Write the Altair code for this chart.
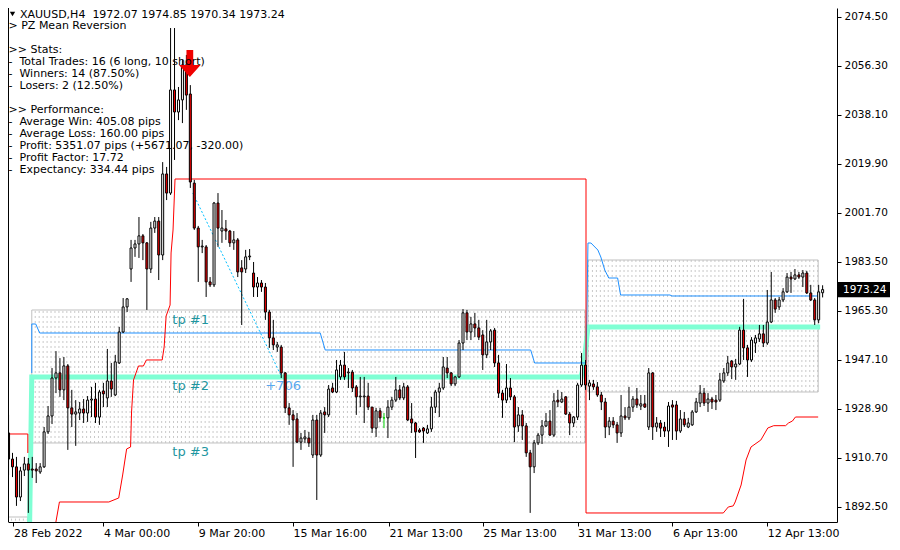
import math
import altair as alt
import pandas as pd

# ---------------- data (XAUUSD H4) ----------------
opens = [
1920.0,1910.3,1907.4,1896.2,1906.2,1908.5,1906.6,1906.6,1905.5,1907.4,
1920.4,1926.3,1940.4,1942.3,1936.0,1944.9,1929.3,1927.0,1927.4,1928.9,
1927.4,1932.2,1932.6,1925.9,1935.6,1933.0,1939.3,1934.1,1946.0,1957.5,
1966.8,1980.9,1988.7,1990.2,1993.2,1990.6,1980.9,1996.1,1998.7,1986.1,
2016.2,2009.1,2047.4,2039.2,2043.7,2056.7,2045.9,2012.8,1996.1,1989.1,
1989.1,1976.1,1975.0,2005.4,1995.0,1995.8,1995.0,1990.6,1991.7,1981.3,
1980.9,1985.4,1979.4,1974.2,1975.7,1974.2,1964.9,1955.3,1951.9,1951.9,
1942.3,1929.3,1926.7,1925.2,1916.6,1917.8,1918.1,1911.8,1924.8,1911.8,
1927.8,1926.7,1936.7,1935.2,1940.8,1945.2,1942.3,1942.6,1937.1,1933.4,
1933.4,1933.7,1929.6,1921.8,1928.2,1925.6,1925.6,1929.6,1932.2,1936.0,
1933.0,1937.1,1925.2,1923.7,1921.1,1921.8,1920.0,1921.5,1929.6,1935.2,
1936.7,1944.1,1942.3,1938.2,1940.8,1953.4,1964.6,1957.5,1960.5,1959.0,
1956.4,1949.0,1953.8,1958.2,1946.0,1934.8,1932.2,1936.7,1933.4,1922.6,
1926.7,1922.6,1912.6,1907.4,1916.3,1919.2,1922.6,1924.4,1919.2,1932.2,
1931.5,1933.4,1927.0,1923.7,1925.9,1937.8,1945.2,1937.4,1938.2,1937.1,
1934.1,1931.5,1922.2,1924.4,1923.0,1920.0,1926.3,1925.6,1929.6,1932.6,
1930.0,1930.8,1922.2,1942.3,1922.2,1923.7,1922.2,1920.7,1930.4,1930.4,
1920.7,1925.2,1922.2,1923.0,1927.8,1931.1,1934.8,1931.1,1932.6,1932.2,
1932.2,1939.3,1942.3,1946.7,1944.5,1945.6,1958.2,1951.6,1947.1,1953.4,
1954.9,1956.8,1953.4,1961.2,1969.4,1966.8,1969.4,1972.4,1977.9,1977.2,
1978.7,1977.9,1979.4,1972.0,1969.4,1962.0,1972.07]
highs = [
1926.7,1912.6,1911.1,1907.4,1911.1,1910.7,1911.1,1908.8,1908.8,1922.2,
1930.0,1944.1,1950.4,1947.8,1948.2,1945.6,1936.0,1932.2,1931.5,1932.6,
1933.7,1937.1,1938.6,1936.0,1938.6,1951.2,1946.0,1949.0,1959.4,1970.1,
1970.1,1991.7,1991.7,2000.2,1993.9,1990.9,1998.4,2000.2,2000.2,2020.6,
2018.8,2070.4,2070.4,2048.5,2058.5,2060.4,2049.2,2014.0,1996.9,1991.7,
1989.8,1977.9,2005.8,2009.1,2002.8,1999.1,1995.4,1995.0,1992.4,1984.2,
1988.0,1988.3,1983.5,1977.9,1976.8,1975.7,1965.7,1962.0,1953.8,1952.7,
1942.6,1931.1,1928.5,1927.4,1920.0,1921.1,1920.4,1926.7,1926.7,1928.5,
1929.6,1937.8,1938.6,1947.1,1947.1,1950.1,1944.1,1943.4,1937.8,1940.8,
1940.8,1938.6,1929.6,1929.3,1929.3,1927.4,1932.2,1933.4,1940.8,1937.8,
1938.6,1937.8,1931.1,1924.1,1921.8,1922.2,1923.0,1933.4,1936.0,1938.6,
1948.2,1948.2,1942.6,1941.2,1954.5,1966.0,1965.7,1963.1,1964.6,1962.0,
1958.2,1962.0,1958.6,1959.0,1949.0,1936.0,1945.6,1940.4,1934.1,1929.6,
1928.5,1923.7,1913.7,1917.4,1920.0,1924.8,1927.4,1928.5,1934.8,1936.0,
1935.2,1933.7,1927.8,1926.3,1938.6,1949.7,1947.1,1939.7,1939.7,1938.9,
1935.2,1933.0,1925.9,1925.9,1924.1,1934.1,1929.6,1937.1,1933.7,1936.7,
1934.1,1934.1,1944.1,1942.6,1925.9,1924.8,1924.1,1931.5,1932.2,1931.9,
1928.5,1927.8,1925.6,1928.5,1933.0,1937.8,1936.7,1934.8,1933.4,1934.1,
1942.3,1944.1,1948.6,1947.1,1947.5,1959.4,1969.8,1952.7,1955.6,1956.4,
1960.1,1960.1,1973.1,1979.8,1970.1,1970.5,1973.8,1979.4,1979.8,1980.9,
1979.8,1980.5,1980.2,1975.0,1970.1,1975.0,1974.85]
lows = [
1904.4,1903.6,1892.9,1894.7,1904.0,1890.3,1903.3,1901.4,1904.8,1907.0,
1919.6,1923.3,1934.8,1933.4,1932.2,1913.7,1922.2,1915.2,1924.8,1923.7,
1924.1,1925.9,1923.7,1923.0,1929.6,1929.6,1933.4,1933.7,1945.6,1957.1,
1964.9,1976.1,1985.4,1985.0,1984.2,1965.7,1979.4,1994.3,1976.8,1984.2,
2006.5,2008.4,2021.4,2036.2,2035.1,2040.0,2011.0,1995.4,1976.1,1986.8,
1970.5,1974.2,1974.2,1989.1,1990.6,1991.7,1989.1,1988.0,1977.9,1960.1,
1979.4,1984.2,1970.5,1970.5,1972.4,1962.0,1951.6,1950.8,1950.1,1940.4,
1927.4,1923.0,1907.4,1916.3,1913.7,1916.3,1914.8,1910.7,1895.1,1911.1,
1920.0,1925.9,1934.8,1934.8,1939.7,1939.7,1936.7,1935.2,1926.7,1929.6,
1923.7,1928.5,1920.0,1918.5,1924.1,1921.8,1918.1,1928.5,1931.5,1932.2,
1932.2,1924.4,1920.0,1910.7,1920.0,1916.3,1919.6,1920.4,1927.4,1925.9,
1936.0,1940.4,1937.4,1937.4,1940.4,1950.8,1954.5,1954.5,1955.6,1954.5,
1943.4,1947.8,1950.8,1944.5,1933.0,1925.6,1931.1,1932.2,1916.6,1920.4,
1917.4,1911.1,1890.3,1905.1,1915.5,1915.9,1922.2,1918.9,1918.5,1929.6,
1931.1,1926.7,1919.2,1922.2,1924.8,1937.1,1936.0,1932.2,1936.0,1933.4,
1928.5,1918.1,1919.2,1921.8,1916.3,1918.5,1924.8,1924.8,1927.8,1929.3,
1928.5,1929.3,1921.1,1917.4,1920.4,1918.5,1918.5,1914.8,1917.4,1917.4,
1920.0,1922.2,1921.8,1922.6,1927.4,1929.6,1930.0,1927.8,1928.9,1928.5,
1931.5,1938.6,1941.2,1940.0,1939.7,1945.2,1947.1,1940.8,1946.4,1949.7,
1953.8,1951.9,1952.7,1960.8,1964.6,1965.7,1968.6,1972.0,1972.0,1976.8,
1977.2,1974.2,1971.6,1969.0,1960.1,1960.8,1970.34]
closes = [
1910.3,1907.4,1896.2,1905.9,1908.5,1906.2,1906.2,1905.9,1907.4,1920.4,
1926.3,1940.4,1942.3,1936.0,1944.9,1929.3,1927.0,1927.8,1928.9,1927.4,
1932.2,1932.6,1925.9,1935.2,1934.5,1939.3,1936.3,1946.4,1957.5,1966.8,
1969.8,1988.7,1990.2,1993.2,1990.6,1980.9,1996.1,1998.7,1986.1,2016.2,
2009.1,2047.4,2039.2,2043.7,2056.7,2045.5,2013.2,1996.1,1989.1,1989.4,
1976.1,1975.0,2005.4,1996.1,1996.1,1995.0,1990.6,1991.7,1979.8,1979.8,
1985.4,1985.7,1974.2,1975.7,1974.2,1964.9,1955.3,1952.7,1952.7,1942.3,
1929.3,1926.7,1924.8,1916.6,1918.1,1918.5,1916.3,1924.8,1911.8,1927.4,
1926.7,1936.3,1935.2,1943.4,1945.2,1940.8,1942.6,1936.7,1933.4,1933.7,
1933.7,1929.6,1921.8,1928.2,1925.6,1925.6,1929.6,1932.2,1936.0,1933.0,
1937.1,1924.8,1923.7,1920.4,1920.4,1920.7,1921.5,1929.6,1935.2,1936.7,
1944.5,1942.3,1938.2,1940.8,1953.4,1964.6,1957.5,1960.5,1959.0,1955.6,
1949.0,1953.8,1957.9,1946.0,1934.8,1932.2,1936.7,1933.4,1922.2,1926.7,
1922.6,1912.6,1907.4,1916.3,1919.2,1922.6,1924.4,1919.2,1931.9,1931.5,
1932.6,1927.0,1923.7,1925.9,1937.8,1945.2,1937.8,1938.6,1937.1,1934.1,
1931.5,1922.2,1924.4,1923.0,1920.0,1926.3,1925.6,1929.6,1932.6,1930.4,
1930.8,1929.6,1942.3,1922.2,1923.7,1921.8,1920.7,1930.0,1929.6,1920.7,
1925.2,1923.0,1923.7,1927.8,1931.5,1934.8,1931.1,1932.6,1931.5,1931.5,
1939.7,1942.3,1946.0,1944.5,1945.6,1958.2,1951.6,1947.1,1954.5,1955.3,
1956.8,1953.4,1961.2,1969.4,1966.0,1969.4,1972.4,1977.9,1977.2,1978.7,
1977.9,1979.4,1972.0,1969.4,1962.0,1972.4,1973.24]

date_labels = ["28 Feb 2022", "4 Mar 00:00", "9 Mar 20:00", "15 Mar 16:00", "21 Mar 13:00",
               "25 Mar 13:00", "31 Mar 13:00", "6 Apr 13:00", "12 Apr 13:00"]
date_ticks = [1.25, 24, 48, 72, 96.25, 120, 144, 168, 192]
price_ticks = [2074.50, 2056.30, 2038.10, 2019.90, 2001.70, 1983.50, 1965.30, 1947.10, 1928.90, 1910.70, 1892.50]

# trade zones (bar span, price span)
zone_start = [-0.125, 5.875, 146.625]
zone_end = [4.875, 145.875, 204.875]
zone_low = [1880.0, 1916.27, 1935.21]
zone_high = [1888.78, 1965.67, 1984.24]

# entry level line (aquamarine)
green_bar = [5.25, 5.875, 144.875, 145.625, 146.625, 205.375]
green_price = [1878.0, 1940.78, 1940.78, 1946.0, 1959.35, 1959.35]

# mean line (blue)
blue_bar = [5.875, 5.875, 6.875, 7.875, 78.875, 80.125, 132.125, 133.125, 146.125, 146.625,
            147.375, 149.125, 149.875, 150.875, 151.875, 154.125, 154.875, 167.375, 167.875, 204.875]
blue_price = [1942.27, 1960.47, 1960.47, 1957.12, 1957.12, 1950.81, 1950.81, 1945.98, 1945.98, 1990.55,
              1990.55, 1987.95, 1985.35, 1980.52, 1977.55, 1977.55, 1971.24, 1971.24, 1970.87, 1970.87]

# stop line (red), two segments
red_a_bar = [-0.125, 4.875, 4.875]
red_a_price = [1919.61, 1919.61, 1912.55]
red_b_bar = [11.8, 12.875, 25.375, 27.875, 28.875, 29.875, 30.875, 31.125, 31.625, 32.875,
             34.125, 34.875, 38.875, 39.375, 39.875, 40.875, 41.125, 41.625, 42.125, 146.125,
             146.125, 180.875, 182.125, 183.375, 183.875, 185.375, 186.625, 187.875, 190.375, 192.125,
             193.625, 196.625, 197.375, 198.375, 199.125, 204.875]
red_b_price = [1885.4, 1894.35, 1894.35, 1895.84, 1904.38, 1914.04, 1914.78, 1927.78, 1939.67, 1944.87,
               1944.87, 1947.10, 1947.10, 1951.93, 1963.44, 1967.5, 1986.84, 1995.38, 2014.32, 2014.32,
               1890.27, 1890.27, 1892.5, 1892.9, 1894.35, 1900.67, 1909.95, 1914.78, 1917.38, 1921.84,
               1922.7, 1922.7, 1923.7, 1924.44, 1925.92, 1925.92]

# trade path (dotted)
trade_bar = [46.625, 69.125]
trade_price = [2009.12, 1940.78]

tp_labels = ["tp #1", "tp #2", "tp #3"]
tp_bar = [41.45, 41.45, 41.45]
tp_price = [1961.95, 1937.44, 1912.92]
profit_label = "+706"
profit_bar = 64.95
profit_price = 1937.44

signal_bar = 45.875
signal_price = 2057.2

title_line = "XAUUSD,H4\u00a0\u00a01972.07 1974.85 1970.34 1973.24"
info_lines = ["> PZ Mean Reversion", "", ">> Stats:",
              "-\u00a0\u00a0Total Trades: 16 (6 long, 10 short)",
              "-\u00a0\u00a0Winners: 14 (87.50%)",
              "-\u00a0\u00a0Losers: 2 (12.50%)", "", ">> Performance:",
              "-\u00a0\u00a0Average Win: 405.08 pips",
              "-\u00a0\u00a0Average Loss: 160.00 pips",
              "-\u00a0\u00a0Profit: 5351.07 pips (+5671.07, -320.00)",
              "-\u00a0\u00a0Profit Factor: 17.72",
              "-\u00a0\u00a0Expectancy: 334.44 pips"]

# ---------------- chart ----------------
FONT = "DejaVu Sans"
W, H = 829, 514
xs = alt.Scale(domain=[1.125, 208.375], nice=False, zero=False)
ys = alt.Scale(domain=[1886.92, 2077.84], nice=False, zero=False)

label_expr = "[" + ",".join("'%s'" % s for s in date_labels) + "][round(datum.value / 24)]"
x_axis = alt.Axis(values=date_ticks, labelExpr=label_expr, orient="bottom", title=None, grid=False,
                  domainColor="black", domainWidth=1, tickColor="black", tickSize=4, tickWidth=1,
                  labelAlign="left", labelBaseline="top", labelPadding=1, labelFont=FONT,
                  labelFontSize=11, labelColor="black", labelFlush=False, labelOverlap=False,
                  labelBound=False)
y_axis = alt.Axis(values=price_ticks, format=".2f", orient="right", title=None, grid=False,
                  domainColor="black", domainWidth=1, tickColor="black", tickSize=4, tickWidth=1,
                  labelPadding=3, labelFont=FONT, labelFontSize=10.5, labelColor="black",
                  labelBaseline="middle", labelAlign="left", labelOverlap=False, labelFlush=False,
                  labelBound=False)


def X(f):
    return alt.X(f, type="quantitative", scale=xs, axis=x_axis)


def Y(f):
    return alt.Y(f, type="quantitative", scale=ys, axis=y_axis)


cdf = pd.DataFrame({"bar": list(range(len(opens))), "o": opens, "h": highs, "l": lows, "c": closes})
cdf["kind"] = ["up" if c > o else ("down" if c < o else "flat") for o, c in zip(opens, closes)]
kinds = ["up", "down", "flat"]

# zone dotted fill columns
dot_rows = []
for s, e, lo, hi in zip(zone_start, zone_end, zone_low, zone_high):
    for j in range(math.ceil(s + 0.25), math.floor(e + 0.25) + 1):
        dot_rows.append({"bar": j - 0.25, "lo": lo, "hi": hi})
dots = pd.DataFrame(dot_rows)
zones = pd.DataFrame({"x1": zone_start, "x2": zone_end, "lo": zone_low, "hi": zone_high})

layers = []
layers.append(alt.Chart(dots).mark_rule(color="#C8C8C8", strokeWidth=1, strokeDash=[2, 3], clip=True)
              .encode(x=X("bar"), y=Y("lo"), y2="hi"))
layers.append(alt.Chart(zones).mark_rect(fill="white", fillOpacity=0, stroke="#C0C0C0", strokeWidth=1, clip=True)
              .encode(x=X("x1"), x2="x2", y=Y("lo"), y2="hi"))

tpdf = pd.DataFrame({"bar": tp_bar, "price": tp_price, "t": tp_labels})
layers.append(alt.Chart(tpdf).mark_text(align="left", baseline="middle", font=FONT, fontSize=13, color="#1E96A0")
              .encode(x=X("bar"), y=Y("price"), text="t:N"))
pdf = pd.DataFrame({"bar": [profit_bar], "price": [profit_price], "t": [profit_label]})
layers.append(alt.Chart(pdf).mark_text(align="left", baseline="middle", font=FONT, fontSize=13, color="#5AA8F0")
              .encode(x=X("bar"), y=Y("price"), text="t:N"))


def path(xv, yv, **mk):
    df = pd.DataFrame({"bar": xv, "price": yv, "i": list(range(len(xv)))})
    return alt.Chart(df).mark_line(clip=True, **mk).encode(x=X("bar"), y=Y("price"), order="i:Q")


layers.append(path(green_bar, green_price, color="#7FFFD4", strokeWidth=5))
layers.append(path(blue_bar, blue_price, color="#1E90FF", strokeWidth=1))
layers.append(path(red_a_bar, red_a_price, color="#FF0000", strokeWidth=1))
layers.append(path(red_b_bar, red_b_price, color="#FF0000", strokeWidth=1))
layers.append(path(trade_bar, trade_price, color="#00BFFF", strokeWidth=1, strokeDash=[2, 2]))

# candles: wicks then bodies
layers.append(alt.Chart(cdf).mark_rule(strokeWidth=1, clip=True).encode(
    x=X("bar"), y=Y("l"), y2="h",
    color=alt.Color("kind:N", scale=alt.Scale(domain=kinds, range=["black", "black", "#00D000"]), legend=None)))
layers.append(alt.Chart(cdf).mark_bar(size=2, strokeWidth=1, clip=True).encode(
    x=X("bar"), y=Y("o"), y2="c",
    fill=alt.Fill("kind:N", scale=alt.Scale(domain=kinds, range=["white", "#F00000", "#00D000"]), legend=None),
    stroke=alt.Stroke("kind:N", scale=alt.Scale(domain=kinds, range=["black", "black", "#00D000"]), legend=None)))

ARROW = "M-0.25,-1L0.25,-1L0.25,0.1L0.8,0.1L0,1L-0.8,0.1L-0.25,0.1Z"
sdf = pd.DataFrame({"bar": [signal_bar], "price": [signal_price]})
layers.append(alt.Chart(sdf).mark_point(shape=ARROW, filled=True, color="#F00000", size=729, opacity=1)
              .encode(x=X("bar"), y=Y("price")))

# header texts
layers.append(alt.Chart(pd.DataFrame({"t": ["v"]})).mark_point(shape="triangle-down", filled=True, color="black",
                                                               size=28, opacity=1)
              .encode(x=alt.value(4.5), y=alt.value(6)))
layers.append(alt.Chart(pd.DataFrame({"t": [title_line]})).mark_text(align="left", baseline="middle", font=FONT,
                                                                     fontSize=11, color="black")
              .encode(x=alt.value(12), y=alt.value(6.5), text="t:N"))
for i, line in enumerate(info_lines):
    if not line:
        continue
    layers.append(alt.Chart(pd.DataFrame({"t": [line]})).mark_text(align="left", baseline="middle", font=FONT,
                                                                   fontSize=11, color="black")
                  .encode(x=alt.value(0.5), y=alt.value(18 + 12 * i), text="t:N"))

# current price tag
last = closes[-1]
tag = pd.DataFrame({"price": [last], "hi": [last + 2.8], "lo": [last - 2.8], "t": ["%.2f" % last]})
layers.append(alt.Chart(tag).mark_rect(color="black").encode(x=alt.value(830), x2=alt.value(882),
                                                             y=Y("hi"), y2="lo"))
layers.append(alt.Chart(tag).mark_text(align="left", baseline="middle", font=FONT, fontSize=10.5, color="white")
              .encode(x=alt.value(835), y=Y("price"), text="t:N"))

# left frame
layers.append(alt.Chart(pd.DataFrame({"a": [0]})).mark_rule(color="black", strokeWidth=1)
              .encode(x=alt.value(0.5), y=alt.value(0), y2=alt.value(H)))

chart = alt.layer(*layers).properties(
    width=W, height=H,
    padding={"left": 0, "top": 0, "right": 55, "bottom": 19},
    autosize=alt.AutoSizeParams(type="none"),
    background="white",
).configure_view(strokeWidth=0)

chart.save("out.html", embed_options={"renderer": "svg", "actions": False})
